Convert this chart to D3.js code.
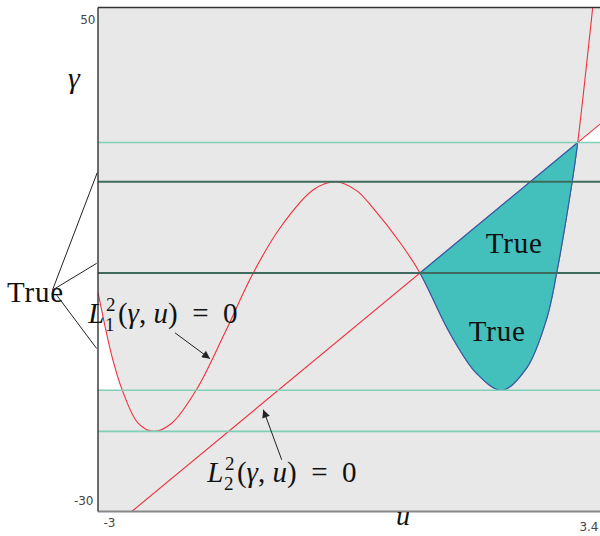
<!DOCTYPE html>
<html>
<head>
<meta charset="utf-8">
<script src="https://cdn.jsdelivr.net/npm/d3@7"></script>
<style>
  html, body { margin: 0; padding: 0; background: #fff; }
  svg { display: block; }
  .serif { font-family: "Liberation Serif", "DejaVu Serif", serif; fill: #111; }
  .tick text { font-family: "DejaVu Sans", sans-serif; fill: #444; }
</style>
</head>
<body>
<svg id="chart" width="600" height="536"></svg>
<script>
// Axis extents and tick labels
const uDomain = [-3, 3.4];
const gDomain = [-30, 50];
const uTicks = [-3, 3.4];
const gTicks = [-30, 50];

// Curve L1^2(gamma, u) = 0, sampled points (u, gamma)
const curveU = [-3.0, -2.82, -2.69, -2.486, -2.286, -2.06, -1.742, -1.381, -1.028, -0.68,
                -0.25, 0.034, 0.3, 0.51, 0.85, 1.105, 1.488, 1.828, 2.151, 2.466,
                2.72, 2.848, 3.047, 3.116, 3.307];
const curveG = [4.8, -5.5, -10.76, -16.0, -17.28, -16.0, -10.6, -1.6, 7.7, 15.0,
                21.1, 22.33, 20.9, 18.1, 12.7, 7.86, -1.74, -8.1, -10.76, -7.2,
                0.6, 7.9, 22.5, 28.58, 50.0];

// Line L2^2(gamma, u) = 0, its two end points
const lineU = [-2.57, 3.4];
const lineG = [-30, 31.5];

// Crossings of curve and line
const crossU = [1.105, 3.116];

// Horizontal reference levels
const levelG = [28.58, 22.33, 7.86, -10.76, -17.28];
const levelKind = ["light", "dark", "dark", "light", "light"];

// Annotations
const sideLabel = { u: -4.16, g: 3.3, text: "True" };
const sideFromU = [-3.58, -3.58, -3.527];
const sideFromG = [5.15, 5.15, 4.35];
const sideToU = [-3.009, -3.017, -3.017];
const sideToG = [23.8, 9.39, -4.13];
const regionLabelU = [2.306, 2.089];
const regionLabelG = [11.08, -2.92];

const svg = d3.select("#chart");
const pLeft = 98, pRight = 600, pTop = 7.5, pBottom = 511.5;
const x = d3.scaleLinear(uDomain, [pLeft, pRight]);
const y = d3.scaleLinear(gDomain, [pBottom, pTop]);
const smooth = d3.curveCatmullRom.alpha(0.5);

const lineAt = u => lineG[0] + (u - lineU[0]) * (lineG[1] - lineG[0]) / (lineU[1] - lineU[0]);
const pts = curveU.map((u, i) => [u, curveG[i]]);

const defs = svg.append("defs");
defs.append("clipPath").attr("id", "plot")
  .append("rect").attr("x", pLeft).attr("y", pTop).attr("width", pRight - pLeft).attr("height", pBottom - pTop);
defs.append("clipPath").attr("id", "region")
  .append("polygon").attr("points", [
    [x(crossU[0]), y(lineAt(crossU[0]))],
    [x(crossU[1]), y(lineAt(crossU[1]))],
    [x(crossU[1]), y(gDomain[0])],
    [x(crossU[0]), y(gDomain[0])]
  ].map(p => p.join(",")).join(" "));
defs.append("clipPath").attr("id", "leftgap")
  .append("rect").attr("x", x(curveU[0])).attr("y", pTop)
  .attr("width", x(curveU[2]) - x(curveU[0])).attr("height", y(levelG[3]) - pTop);
defs.append("marker").attr("id", "head").attr("viewBox", "0 0 10 10")
  .attr("refX", 10).attr("refY", 5).attr("markerWidth", 11).attr("markerHeight", 8)
  .attr("markerUnits", "userSpaceOnUse").attr("orient", "auto")
  .append("path").attr("d", "M0,0 L10,5 L0,10 Z").attr("fill", "#222");

const plot = svg.append("g").attr("clip-path", "url(#plot)");

// background
plot.append("rect").attr("x", pLeft).attr("y", pTop).attr("width", pRight - pLeft).attr("height", pBottom - pTop)
  .attr("fill", "#e8e8e8");

// white gaps
plot.append("path")
  .attr("clip-path", "url(#leftgap)")
  .attr("d", d3.area().x(d => x(d[0])).y0(y(levelG[3])).y1(d => y(d[1])).curve(smooth)(pts))
  .attr("fill", "#fff");
plot.append("polygon")
  .attr("points", [
    [x(crossU[1]), y(levelG[0])],
    [x(uDomain[1]), y(levelG[0])],
    [x(uDomain[1]), y(lineAt(uDomain[1]))]
  ].map(p => p.join(",")).join(" "))
  .attr("fill", "#fff");

// red curve and line
const curvePath = d3.line().x(d => x(d[0])).y(d => y(d[1])).curve(smooth)(pts);
plot.append("path").attr("d", curvePath).attr("fill", "none").attr("stroke", "#f0303e").attr("stroke-width", 1.1);
plot.append("line")
  .attr("x1", x(lineU[0])).attr("y1", y(lineG[0]))
  .attr("x2", x(lineU[1])).attr("y2", y(lineG[1]))
  .attr("stroke", "#f0303e").attr("stroke-width", 1.1);

// shaded region between line and curve
const regionG = plot.append("g").attr("clip-path", "url(#region)");
regionG.append("path")
  .attr("d", d3.area().x(d => x(d[0])).y0(d => y(d[1])).y1(pTop - 10).curve(smooth)(pts))
  .attr("fill", "#43bfbc");
regionG.append("path").attr("d", curvePath).attr("fill", "none").attr("stroke", "#2d5fae").attr("stroke-width", 1.2);
plot.append("line")
  .attr("x1", x(crossU[0])).attr("y1", y(lineAt(crossU[0])))
  .attr("x2", x(crossU[1])).attr("y2", y(lineAt(crossU[1])))
  .attr("stroke", "#2d5fae").attr("stroke-width", 1.2);

// horizontal levels
plot.selectAll("line.level").data(levelG).join("line").attr("class", "level")
  .attr("x1", pLeft).attr("x2", pRight)
  .attr("y1", d => y(d)).attr("y2", d => y(d))
  .attr("stroke", (d, i) => levelKind[i] === "dark" ? "#3e6b5e" : "#7fd0b6")
  .attr("stroke-width", (d, i) => levelKind[i] === "dark" ? 2 : 1.6);

// frame
svg.append("line").attr("x1", pLeft).attr("x2", pRight).attr("y1", pBottom).attr("y2", pBottom)
  .attr("stroke", "#888").attr("stroke-width", 2);
svg.append("line").attr("x1", pLeft).attr("x2", pRight).attr("y1", pTop).attr("y2", pTop)
  .attr("stroke", "#333").attr("stroke-width", 1.4);
svg.append("line").attr("x1", pLeft).attr("x2", pLeft).attr("y1", pTop).attr("y2", pBottom)
  .attr("stroke", "#333").attr("stroke-width", 1.4);

// axes
const xAxis = svg.append("g").attr("transform", `translate(0,${pBottom})`)
  .call(d3.axisBottom(x).tickValues(uTicks).tickSize(0).tickFormat(d => String(d)));
xAxis.select(".domain").remove();
xAxis.selectAll(".tick text").attr("font-size", 12)
  .attr("text-anchor", (d, i) => i === 0 ? "start" : "end")
  .attr("dx", (d, i) => i === 0 ? 5 : -2)
  .attr("y", (d, i) => i === 0 ? 15 : 19).attr("dy", "0");
const yAxis = svg.append("g").attr("transform", `translate(${pLeft},0)`)
  .call(d3.axisLeft(y).tickValues(gTicks).tickSize(0).tickFormat(d => String(d)));
yAxis.select(".domain").remove();
yAxis.selectAll(".tick text").attr("font-size", 12)
  .attr("x", (d, i) => i === 0 ? -4.5 : -2.5)
  .attr("dy", (d, i) => i === 0 ? "-0.6em" : "1.3em");

// axis titles
svg.append("text").attr("class", "serif").attr("x", 74).attr("y", 88)
  .attr("text-anchor", "middle").attr("font-size", 30).attr("font-style", "italic").text("γ");
svg.append("text").attr("class", "serif").attr("x", 403).attr("y", 525)
  .attr("text-anchor", "middle").attr("font-size", 28).attr("font-style", "italic").text("u");

// side label with connectors
sideFromU.forEach((u, i) => {
  svg.append("line")
    .attr("x1", x(u)).attr("y1", y(sideFromG[i]))
    .attr("x2", x(sideToU[i])).attr("y2", y(sideToG[i]))
    .attr("stroke", "#222").attr("stroke-width", 1);
});
svg.append("text").attr("class", "serif").attr("x", x(sideLabel.u)).attr("y", y(sideLabel.g))
  .attr("font-size", 29).attr("letter-spacing", 0.8).text(sideLabel.text);

// region labels
regionLabelU.forEach((u, i) => {
  svg.append("text").attr("class", "serif").attr("x", x(u)).attr("y", y(regionLabelG[i]))
    .attr("text-anchor", "middle").attr("font-size", 29).attr("letter-spacing", 0.8).text("True");
});

// math labels with arrows
function mathLabel(u, g, sub) {
  const grp = svg.append("g").attr("class", "serif").attr("transform", `translate(${x(u)},${y(g)})`);
  const L = grp.append("text").attr("class", "serif").attr("font-size", 29).attr("font-style", "italic").text("L");
  const lw = L.node().getComputedTextLength();
  const sup = grp.append("text").attr("class", "serif").attr("x", lw + 1.5).attr("y", -12).attr("font-size", 19).text("2");
  grp.append("text").attr("class", "serif").attr("x", lw + 0.5).attr("y", 8).attr("font-size", 19).text(sub);
  const sw = sup.node().getComputedTextLength();
  const rest = grp.append("text").attr("class", "serif").attr("x", lw + sw + 4).attr("font-size", 29);
  rest.append("tspan").text("(");
  rest.append("tspan").attr("font-style", "italic").text("γ");
  rest.append("tspan").text(", ");
  rest.append("tspan").attr("font-style", "italic").text("u");
  rest.append("tspan").text(")\u2002=\u20020");
}
function arrow(u1, g1, u2, g2) {
  svg.append("line").attr("x1", x(u1)).attr("y1", y(g1)).attr("x2", x(u2)).attr("y2", y(g2))
    .attr("stroke", "#222").attr("stroke-width", 1).attr("marker-end", "url(#head)");
}
mathLabel(-3.124, -0.15, "1");
arrow(-2.018, -1.64, -1.572, -5.75);
mathLabel(-1.607, -25.34, "2");
arrow(-0.658, -21.78, -0.893, -13.83);
</script>
</body>
</html>
